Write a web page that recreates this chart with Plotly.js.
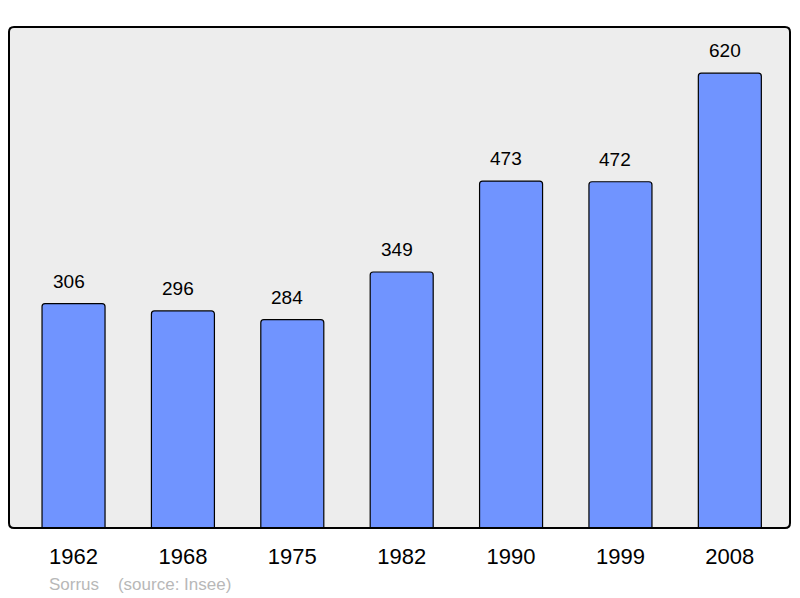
<!DOCTYPE html>
<html>
<head>
<meta charset="utf-8">
<script src="https://cdn.plot.ly/plotly-3.0.1.min.js"></script>
<style>html,body{margin:0;padding:0;background:#fff;}#chart{width:800px;height:598px;}</style>
</head>
<body>
<div id="chart"></div>
<script>
const years = ["1962", "1968", "1975", "1982", "1990", "1999", "2008"];
const population = [306, 296, 284, 349, 473, 472, 620];
const sourceNote = "Sorrus\u00a0\u00a0\u00a0\u00a0(source: Insee)";

const trace = {
  type: "bar",
  x: years,
  y: population,
  width: 0.576,
  marker: { color: "#7094ff", line: { color: "#000", width: 1.2 }, cornerradius: 3 },
  hoverinfo: "x+y"
};

const valueLabels = years.map((yr, i) => ({
  x: i, y: population[i], xref: "x", yref: "y",
  text: String(population[i]), showarrow: false,
  yanchor: "bottom", yshift: 10, xshift: -5,
  font: { family: "Liberation Sans, Arial, sans-serif", size: 19, color: "#000" }
}));

const rx = 5 / 781, ry = 5 / 501;
const framePath = `M ${rx} 0 L ${1 - rx} 0 Q 1 0 1 ${ry} L 1 ${1 - ry} Q 1 1 ${1 - rx} 1 ` +
  `L ${rx} 1 Q 0 1 0 ${1 - ry} L 0 ${ry} Q 0 0 ${rx} 0 Z`;

const layout = {
  width: 800, height: 598,
  margin: { l: 9, r: 10, t: 27, b: 70 },
  paper_bgcolor: "#fff",
  plot_bgcolor: "#ededed",
  showlegend: false,
  font: { family: "Liberation Sans, Arial, sans-serif", color: "#000" },
  xaxis: {
    type: "category",
    range: [-0.59, 6.55],
    showgrid: false, zeroline: false, showline: false,
    ticks: "outside", ticklen: 9, tickcolor: "rgba(0,0,0,0)",
    tickfont: { size: 22, color: "#000" },
    fixedrange: true
  },
  yaxis: {
    range: [0, 683],
    showgrid: false, zeroline: false, showline: false,
    showticklabels: false, ticks: "",
    fixedrange: true
  },
  shapes: [{
    type: "path", xref: "paper", yref: "paper",
    path: framePath,
    line: { color: "#000", width: 2 }, layer: "above"
  }],
  annotations: valueLabels.concat([{
    xref: "paper", yref: "paper", x: (47 - 9) / 781, y: -0.112,
    xanchor: "left", yanchor: "middle", showarrow: false,
    text: sourceNote,
    font: { family: "Liberation Sans, Arial, sans-serif", size: 17, color: "#b8b8b8" }
  }])
};

Plotly.newPlot("chart", [trace], layout, { displayModeBar: false, staticPlot: true });
</script>
</body>
</html>
